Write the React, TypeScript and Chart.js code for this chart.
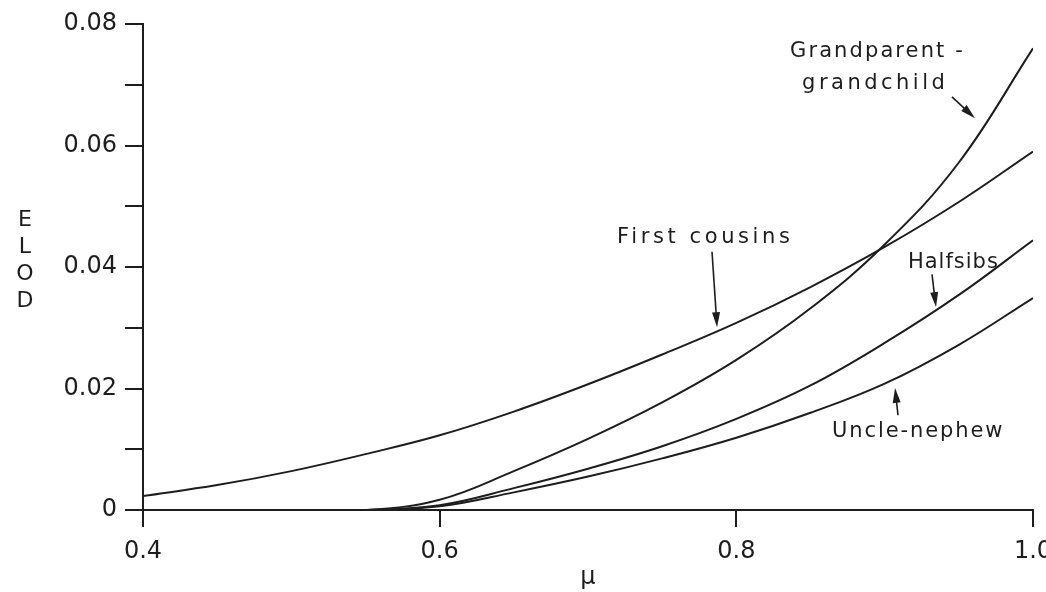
import { useEffect, useRef } from 'react';
import { Chart, registerables } from 'chart.js';

Chart.register(...registerables);

// μ (abscissa) sample points shared by all four relationship curves
const muValues = [0.4, 0.45, 0.5, 0.55, 0.6, 0.65, 0.7, 0.75, 0.8, 0.85, 0.9, 0.95, 1.0];

// ELOD values per relationship
const firstCousins = [0.0023, 0.0041, 0.0064, 0.0092, 0.0123, 0.0162, 0.0207, 0.0256, 0.0308, 0.0367, 0.0433, 0.0507, 0.059];
const grandparentGrandchild = [0, 0, 0, 0, 0.0017, 0.0064, 0.0117, 0.0177, 0.0247, 0.0332, 0.0437, 0.0572, 0.076];
const halfsibs = [0, 0, 0, 0, 0.0008, 0.0036, 0.0068, 0.0105, 0.015, 0.0205, 0.0275, 0.0354, 0.0444];
const uncleNephew = [0, 0, 0, 0, 0.0006, 0.0029, 0.0055, 0.0085, 0.0119, 0.016, 0.0208, 0.0272, 0.0349];

const INK = '#1d1d1d';
const FONT = "'DejaVu Sans', 'Liberation Sans', sans-serif";

// Curve labels, anchored in data coordinates (left edge, baseline)
const curveLabels = [
  { text: 'Grandparent -', x: 0.8362, y: 0.0746, spacing: 2.1 },
  { text: 'grandchild', x: 0.8443, y: 0.0693, spacing: 3.5 },
  { text: 'First cousins', x: 0.7196, y: 0.044, spacing: 3.6 },
  { text: 'Halfsibs', x: 0.9157, y: 0.0398, spacing: 1 },
  { text: 'Uncle-nephew', x: 0.8645, y: 0.012, spacing: 1.9 },
];

// Pointer arrows from each label to its curve (tail -> head)
const pointers = [
  { from: [0.9454, 0.068], to: [0.9609, 0.0645] },
  { from: [0.7836, 0.0425], to: [0.787, 0.0301] },
  { from: [0.9319, 0.0388], to: [0.9346, 0.0334] },
  { from: [0.909, 0.0156], to: [0.907, 0.0201] },
];

const yTitleLetters = ['E', 'L', 'O', 'D'];

const toPoints = (ys: number[]) => ys.map((y, i) => ({ x: muValues[i], y }));

const annotationPlugin = {
  id: 'curveAnnotations',
  afterDraw(chart: any) {
    const { ctx, scales, chartArea } = chart;
    const sx = scales.x;
    const sy = scales.y;
    ctx.save();
    ctx.fillStyle = INK;
    ctx.strokeStyle = INK;

    // labels
    ctx.font = `21px ${FONT}`;
    ctx.textAlign = 'left';
    ctx.textBaseline = 'alphabetic';
    curveLabels.forEach((l) => {
      (ctx as any).letterSpacing = `${l.spacing}px`;
      ctx.fillText(l.text, sx.getPixelForValue(l.x), sy.getPixelForValue(l.y));
    });
    (ctx as any).letterSpacing = '0px';

    // arrows
    ctx.lineWidth = 1.6;
    pointers.forEach((p) => {
      const x1 = sx.getPixelForValue(p.from[0]);
      const y1 = sy.getPixelForValue(p.from[1]);
      const x2 = sx.getPixelForValue(p.to[0]);
      const y2 = sy.getPixelForValue(p.to[1]);
      const ang = Math.atan2(y2 - y1, x2 - x1);
      const headLen = 15;
      const halfW = 4;
      ctx.beginPath();
      ctx.moveTo(x1, y1);
      ctx.lineTo(x2 - Math.cos(ang) * headLen * 0.6, y2 - Math.sin(ang) * headLen * 0.6);
      ctx.stroke();
      const bx = x2 - Math.cos(ang) * headLen;
      const by = y2 - Math.sin(ang) * headLen;
      ctx.beginPath();
      ctx.moveTo(x2, y2);
      ctx.lineTo(bx + Math.sin(ang) * halfW, by - Math.cos(ang) * halfW);
      ctx.lineTo(bx - Math.sin(ang) * halfW, by + Math.cos(ang) * halfW);
      ctx.closePath();
      ctx.fill();
    });

    // stacked vertical axis title
    ctx.font = `22px ${FONT}`;
    ctx.textAlign = 'center';
    ctx.textBaseline = 'middle';
    const midY = (chartArea.top + chartArea.bottom) / 2 - 6;
    const gap = 27;
    yTitleLetters.forEach((ch, i) => {
      ctx.fillText(ch, 25, midY + (i - (yTitleLetters.length - 1) / 2) * gap);
    });
    ctx.restore();
  },
};

export default function App() {
  const canvasRef = useRef<HTMLCanvasElement>(null);

  useEffect(() => {
    const lineStyle = {
      borderColor: INK,
      borderWidth: 2,
      pointRadius: 0,
      fill: false,
      tension: 0.4,
    };
    const chart = new Chart(canvasRef.current!, {
      type: 'line',
      data: {
        datasets: [
          { label: 'First cousins', data: toPoints(firstCousins), ...lineStyle },
          { label: 'Grandparent-grandchild', data: toPoints(grandparentGrandchild), ...lineStyle },
          { label: 'Halfsibs', data: toPoints(halfsibs), ...lineStyle },
          { label: 'Uncle-nephew', data: toPoints(uncleNephew), ...lineStyle },
        ],
      },
      options: {
        responsive: false,
        animation: false,
        layout: { padding: { left: 0, top: 24, right: 13, bottom: 0 } },
        elements: { line: { capBezierPoints: true } },
        plugins: {
          legend: { display: false },
          tooltip: { enabled: false },
        },
        scales: {
          x: {
            type: 'linear',
            min: 0.4,
            max: 1.0,
            afterFit: (scale: any) => {
              scale.height = 82;
              scale.paddingLeft = 0;
              scale.paddingRight = 0;
            },
            ticks: {
              stepSize: 0.2,
              padding: 10,
              color: INK,
              font: { family: FONT, size: 24 },
              maxRotation: 0,
              callback: (v: any) => Number(v).toFixed(1),
            },
            grid: {
              drawOnChartArea: false,
              drawTicks: true,
              tickLength: 17,
              color: INK,
              lineWidth: 2,
            },
            border: { display: true, color: INK, width: 2 },
            title: {
              display: true,
              text: 'μ',
              color: INK,
              font: { family: FONT, size: 24 },
              padding: 0,
            },
          },
          y: {
            type: 'linear',
            min: 0,
            max: 0.08,
            afterFit: (scale: any) => {
              scale.width = 143;
              scale.paddingTop = 0;
              scale.paddingBottom = 0;
            },
            ticks: {
              stepSize: 0.01,
              padding: 8,
              color: INK,
              font: { family: FONT, size: 24 },
              callback: (v: any) => {
                const hundredths = Math.round(Number(v) * 100);
                if (hundredths % 2 !== 0) return '';
                return hundredths === 0 ? '0' : Number(v).toFixed(2);
              },
            },
            grid: {
              drawOnChartArea: false,
              drawTicks: true,
              tickLength: 18,
              color: INK,
              lineWidth: 2,
            },
            border: { display: true, color: INK, width: 2 },
          },
        },
      },
      plugins: [annotationPlugin],
    });
    return () => chart.destroy();
  }, []);

  return (
    <div style={{ position: 'fixed', left: 0, top: 0, width: 1046, height: 592, background: '#fff' }}>
      <canvas ref={canvasRef} width={1046} height={592} style={{ display: 'block' }} />
    </div>
  );
}
